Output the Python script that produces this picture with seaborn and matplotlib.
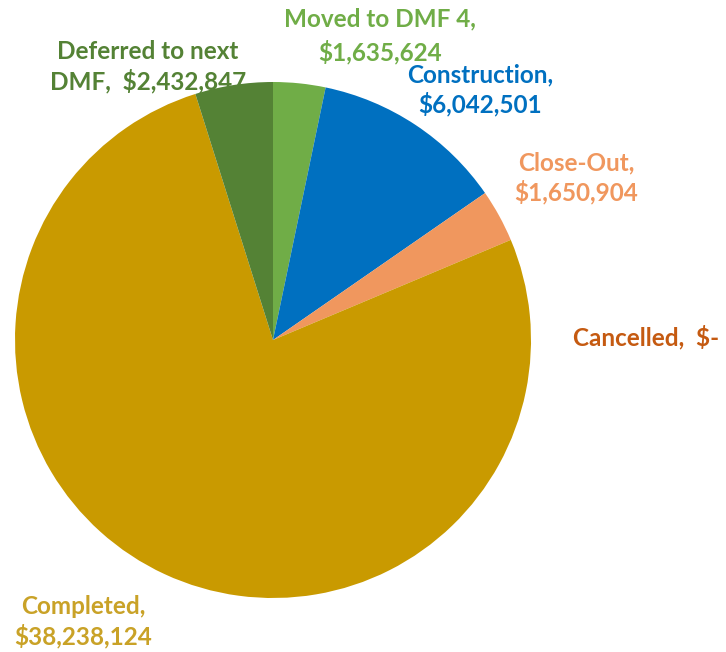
import matplotlib.pyplot as plt
import seaborn as sns

# project status totals (dollars), clockwise from 12 o'clock
status = ['Moved to DMF 4', 'Construction', 'Close-Out', 'Cancelled', 'Completed', 'Deferred to next DMF']
amounts = [1635624, 6042501, 1650904, 0, 38238124, 2432847]
slice_colors = ['#70AD47', '#0070C0', '#F0975E', '#C55A11', '#C99A00', '#548235']
label_colors = ['#70AD47', '#0070C0', '#F0975E', '#C55A11', '#C9A227', '#548235']
label_text = ['Moved to DMF 4,\n$1,635,624', 'Construction,\n$6,042,501', 'Close-Out,\n$1,650,904',
              'Cancelled,  $-', 'Completed,\n$38,238,124', 'Deferred to next\nDMF,  $2,432,847']

sns.set_theme(style='white')
plt.rcParams['font.family'] = ['Lato', 'DejaVu Sans']

W, H = 726, 652
cx, cy, r = 273, 340, 258
fig = plt.figure(figsize=(W / 100, H / 100), dpi=100)
ax = fig.add_axes([0, 0, 1, 1])

ax.pie(amounts, colors=slice_colors, startangle=90, counterclock=False, radius=1,
       wedgeprops=dict(linewidth=0))

# axes limits so one data unit == radius in pixels
ax.set_xlim(-cx / r, (W - cx) / r)
ax.set_ylim(-(H - cy) / r, cy / r)
ax.set_aspect('auto')
ax.axis('off')

# label anchor points in pixels (x, y from top)
label_pos = [(380, 36), (480, 90), (576, 178), (646, 337), (83, 622), (148, 67)]
spacing = [1.45, 1.3, 1.3, 1.2, 1.3, 1.3]
for txt, col, (px, py), ls in zip(label_text, label_colors, label_pos, spacing):
    ax.text((px - cx) / r, (cy - py) / r, txt, color=col, fontsize=17.5, fontweight='bold',
            ha='center', va='center', linespacing=ls)

plt.savefig('out.png', dpi=100)
